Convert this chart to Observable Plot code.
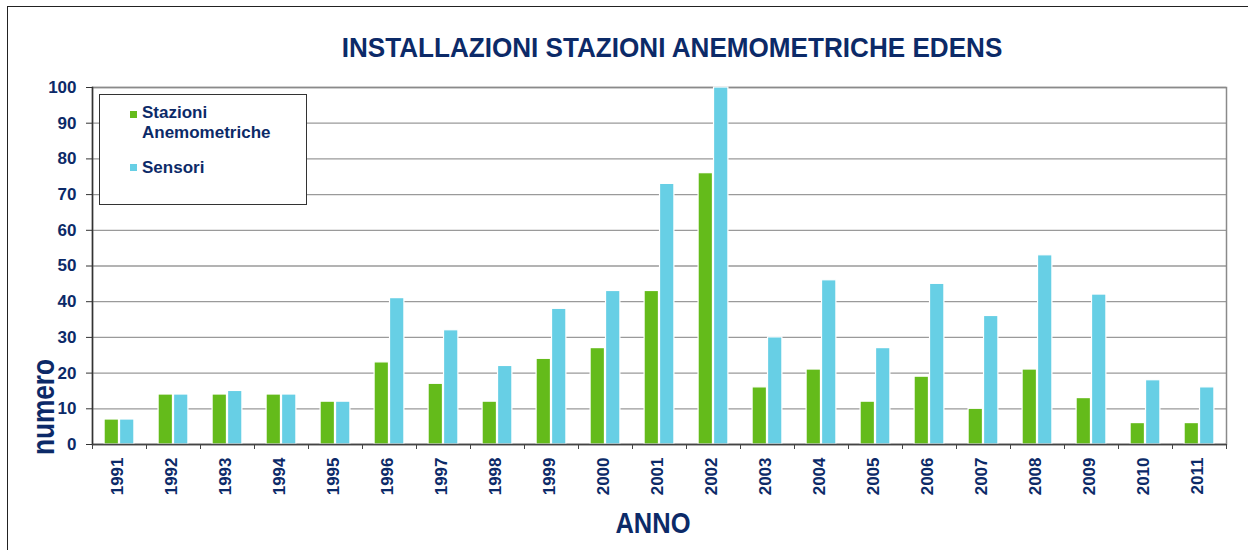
<!DOCTYPE html>
<html>
<head>
<meta charset="utf-8">
<script src="https://cdn.jsdelivr.net/npm/d3@7"></script>
<script src="https://cdn.jsdelivr.net/npm/@observablehq/plot@0.6"></script>
<style>
  html, body { margin: 0; padding: 0; background: #fff; }
  #wrap { position: relative; width: 1248px; height: 550px; overflow: hidden; font-family: "Liberation Sans", Arial, sans-serif; }
  #outer { position: absolute; left: 7px; top: 6px; width: 1300px; height: 600px; border: 1.5px solid #222; box-sizing: border-box; }
  #chart { position: absolute; left: 0; top: 0; }
  .big { position: absolute; white-space: nowrap; font-weight: bold; color: #0c2a68; }
  #title { left: 672px; top: 34px; transform: translateX(-50%) scaleX(0.932); font-size: 28px; line-height: 28px; }
  #xlab { left: 653px; top: 507.5px; transform: translateX(-50%) scaleX(0.85); font-size: 30px; line-height: 30px; }
  #ylab { left: 43px; top: 406.5px; transform: translate(-50%, -50%) rotate(-90deg) scaleX(0.82); font-size: 32px; line-height: 32px; }
  #legend { position: absolute; left: 99px; top: 94px; width: 208px; height: 111px; box-sizing: border-box;
            border: 1px solid #333; background: #fff; }
  .lg-sw { position: absolute; width: 7px; height: 7px; }
  .lg-tx { position: absolute; left: 42px; font-weight: bold; font-size: 17px; line-height: 20px; color: #0c2a68; white-space: nowrap; }
</style>
</head>
<body>
<div id="wrap">
  <div id="outer"></div>
  <div id="chart"></div>
  <div id="title" class="big"></div>
  <div id="xlab" class="big"></div>
  <div id="ylab" class="big"></div>
  <div id="legend"></div>
</div>
<script>
// ---- data ----
const years = ["1991","1992","1993","1994","1995","1996","1997","1998","1999","2000","2001","2002","2003","2004","2005","2006","2007","2008","2009","2010","2011"];
const stazioni = [7,14,14,14,12,23,17,12,24,27,43,76,16,21,12,19,10,21,13,6,6];
const sensori  = [7,14,15,14,12,41,32,22,38,43,73,100,30,46,27,45,36,53,42,18,16];
const yTicks = [0,10,20,30,40,50,60,70,80,90,100];
const seriesNames = ["Stazioni Anemometriche", "Sensori"];
const titleText = "INSTALLAZIONI STAZIONI ANEMOMETRICHE EDENS";
const xLabel = "ANNO";
const yLabel = "numero";

// ---- style ----
const green = "#64bb1b";
const cyan = "#67cfe5";
const navy = "#0c2a68";
const W = 1248, H = 550;
const mL = 92, mR = 22, mT = 87, mB = 106;
const bw = (W - mL - mR) / years.length;

const chart = Plot.plot({
  width: W, height: H,
  marginLeft: mL, marginRight: mR, marginTop: mT, marginBottom: mB,
  style: { fontFamily: "'Liberation Sans', Arial, sans-serif", background: "transparent" },
  x: { type: "band", domain: years, padding: 0, axis: null },
  y: { domain: [0, 100], axis: null },
  marks: [
    Plot.gridY(yTicks, { stroke: "#9a9a9a", strokeOpacity: 1, strokeWidth: 1.3 }),
    Plot.frame({ stroke: "#8a8a8a", strokeWidth: 1.5 }),
    Plot.barY(years, { x: years, y: stazioni, fill: green, stroke: "#fff", strokeWidth: 1.2, insetLeft: bw * 0.224, insetRight: bw * 0.51 }),
    Plot.barY(years, { x: years, y: sensori, fill: cyan, stroke: "#fff", strokeWidth: 1.2, insetLeft: bw * 0.51, insetRight: bw * 0.224 }),
    Plot.ruleY([0], { stroke: "#444", strokeWidth: 1.5 }),
    Plot.frame({ anchor: "left", stroke: "#333", strokeWidth: 1.5 }),
    Plot.axisY(yTicks, { tickSize: 6, tickPadding: 10, fontSize: 17, fontWeight: "bold", fill: navy, stroke: "#333", label: null }),
    Plot.text(years, { x: years, frameAnchor: "bottom", rotate: -90, textAnchor: "end", dx: 3.5, dy: 13, fontSize: 17, fontWeight: "bold", fill: navy }),
    Plot.axisX({ tickSize: 5, tickFormat: () => "", dx: -bw / 2, stroke: "#444", label: null }),
    Plot.axisX([years[years.length - 1]], { tickSize: 5, tickFormat: () => "", dx: bw / 2, stroke: "#444", label: null })
  ]
});
document.getElementById("chart").appendChild(chart);
document.getElementById("title").textContent = titleText;
document.getElementById("xlab").textContent = xLabel;
document.getElementById("ylab").textContent = yLabel;

// legend
const lg = document.getElementById("legend");
const items = [
  { color: green, lines: ["Stazioni", "Anemometriche"], sw: 15.5, top: 7.5 },
  { color: cyan, lines: ["Sensori"], sw: 68.5, top: 62.5 }
];
items.forEach((it) => {
  const s = document.createElement("div");
  s.className = "lg-sw"; s.style.background = it.color; s.style.left = "30px"; s.style.top = it.sw + "px";
  lg.appendChild(s);
  const t = document.createElement("div");
  t.className = "lg-tx"; t.style.top = it.top + "px";
  t.innerHTML = it.lines.join("<br>");
  lg.appendChild(t);
});
</script>
</body>
</html>
